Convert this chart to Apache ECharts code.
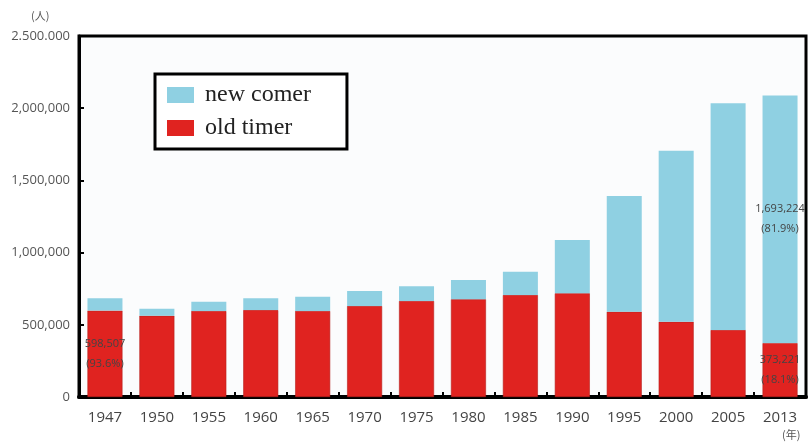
<!DOCTYPE html>
<html>
<head>
<meta charset="utf-8">
<script src="https://cdn.jsdelivr.net/npm/echarts@6/dist/echarts.min.js"></script>
<style>
  html, body { margin: 0; padding: 0; background: #fff; }
  #main { width: 809px; height: 442px; }
</style>
</head>
<body>
<div id="main"></div>
<script>
const years = ['1947', '1950', '1955', '1960', '1965', '1970', '1975', '1980', '1985', '1990', '1995', '2000', '2005', '2013'];
// old timer and new comer counts
const oldTimer = [598507, 563000, 596000, 602000, 596000, 630000, 665000, 677000, 706000, 718000, 591000, 521000, 464000, 373221];
const newComer = [86000, 48000, 64000, 81000, 99000, 104000, 102000, 133000, 162000, 369000, 801000, 1185000, 1570000, 1715000];
const yTicks = ['0', '500,000', '1,000,000', '1,500,000', '2,000,000', '2.500.000'];
const oldLabels = {0: '598,507\n(93.6%)', 13: '373,221\n(18.1%)'};
const newLabels = {13: '1,693,224\n(81.9%)'};

const chart = echarts.init(document.getElementById('main'));

const labelStyle = {
    show: true,
    position: 'inside',
    color: '#444',
    fontSize: 11,
    lineHeight: 20,
    fontFamily: 'Open Sans'
};

function withLabels(values, labels) {
    return values.map(function (v, i) {
        if (labels[i]) {
            return {value: v, label: Object.assign({}, labelStyle, {formatter: labels[i]})};
        }
        return v;
    });
}

const option = {
    animation: false,
    backgroundColor: '#fff',
    grid: {
        left: 79,
        right: 3,
        top: 36,
        bottom: 45,
        show: true,
        borderColor: '#000',
        borderWidth: 3,
        backgroundColor: '#fbfcfd'
    },
    legend: {
        orient: 'vertical',
        left: 155,
        top: 74,
        padding: [9, 36, 9, 12],
        borderColor: '#000',
        borderWidth: 3,
        backgroundColor: '#fff',
        icon: 'rect',
        itemWidth: 27,
        itemHeight: 16,
        itemGap: 9,
        itemStyle: {borderWidth: 0},
        data: ['new comer', 'old timer'],
        textStyle: {
            fontFamily: 'Liberation Serif',
            fontSize: 24,
            color: '#222',
            padding: [0, 0, 0, 6]
        }
    },
    xAxis: {
        type: 'category',
        data: years,
        axisLine: {lineStyle: {color: '#000', width: 4}},
        axisTick: {show: true, inside: true, length: 5, lineStyle: {color: '#000', width: 2}},
        axisLabel: {color: '#444', fontSize: 15, margin: 13, fontFamily: 'Open Sans'}
    },
    yAxis: {
        type: 'value',
        min: 0,
        max: 2500000,
        interval: 500000,
        splitLine: {show: false},
        axisLine: {show: true, lineStyle: {color: '#000', width: 3}},
        axisTick: {show: true, inside: true, length: 5, lineStyle: {color: '#000', width: 2}},
        axisLabel: {
            color: '#555',
            fontSize: 13,
            margin: 9,
            fontFamily: 'Open Sans',
            formatter: function (v) { return yTicks[Math.round(v / 500000)]; }
        }
    },
    graphic: [
        {type: 'text', left: 31, top: 10, style: {text: '(人)', fontSize: 11, fill: '#555', fontFamily: 'Noto Sans CJK JP'}},
        {type: 'text', left: 782, top: 429, style: {text: '(年)', fontSize: 11, fill: '#555', fontFamily: 'Noto Sans CJK JP'}}
    ],
    series: [
        {
            name: 'old timer',
            type: 'bar',
            stack: 'total',
            barWidth: 35,
            itemStyle: {color: '#e02320', borderColor: '#b5201c', borderWidth: 0.6},
            data: withLabels(oldTimer, oldLabels)
        },
        {
            name: 'new comer',
            type: 'bar',
            stack: 'total',
            barWidth: 35,
            itemStyle: {color: '#8fd0e2'},
            data: withLabels(newComer, newLabels)
        }
    ]
};

chart.setOption(option);
</script>
</body>
</html>
